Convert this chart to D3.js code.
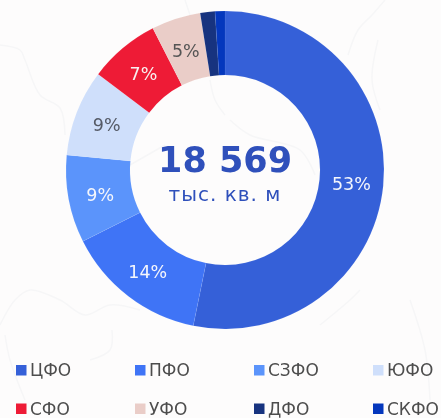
<!DOCTYPE html>
<html><head><meta charset="utf-8">
<script src="https://cdn.jsdelivr.net/npm/d3@7"></script>
<style>html,body{margin:0;padding:0;background:#fdfcfc;overflow:hidden}svg{display:block;filter:blur(0.35px)}text{font-family:"DejaVu Sans",sans-serif}</style>
</head><body><svg id="c" width="441" height="418"></svg>
<script>
const categories=["ЦФО","ПФО","СЗФО","ЮФО","СФО","УФО","ДФО","СКФО"];
const values=[53.2,14.4,8.9,8.8,7.2,5.0,1.5,1.0];
const labels=["53%","14%","9%","9%","7%","5%","",""];
const colors=["#3560d8","#3f74f6","#5b94fb","#cfdffb","#ee1b36","#eacdc8","#17337f","#0437bd"];
const labelColors=["#f4f6fc","#f4f6fc","#f4f6fc","#555a66","#f8f0f0","#555555","#fff","#fff"];
const total="18 569";
const unit="тыс. кв. м";
// faint map outlines in the page background (decoration, not data)
const backdropTraces=[
 [[0,45],[20,50],[25,60],[40,95],[60,108],[65,135]],
 [[0,325],[15,300],[30,290],[60,300],[85,315],[110,305],[140,310]],
 [[5,335],[10,360],[25,400]],
 [[90,360],[110,350],[112,330]],
 [[348,55],[358,30],[372,15],[385,0]],
 [[378,40],[372,80],[380,110]],
 [[230,120],[250,135],[300,150],[315,175]],
 [[130,165],[165,145]],
 [[185,0],[190,15]],
 [[210,80],[215,100],[225,115]],
 [[320,325],[350,300],[360,290]],
 [[410,300],[425,350],[430,400]]
];
const cx=225,cy=170,R=159,r=95;
const svg=d3.select("#c");
const traceLine=d3.line().curve(d3.curveCatmullRom);
svg.append("g").selectAll("path").data(backdropTraces).join("path")
 .attr("d",traceLine).attr("fill","none").attr("stroke","#f6f6f7").attr("stroke-width",1.5);
const g=svg.append("g").attr("transform",`translate(${cx},${cy})`);
const pie=d3.pie().sort(null).value(d=>d)(values);
const arc=d3.arc().innerRadius(r).outerRadius(R);
g.selectAll("path").data(pie).join("path").attr("d",arc).attr("fill",(d,i)=>colors[i])
 .attr("stroke","rgba(255,255,255,0.12)").attr("stroke-width",0.5);
g.selectAll("text.l").data(pie).join("text").attr("class","l")
 .attr("transform",d=>`translate(${arc.centroid(d)})`).attr("text-anchor","middle").attr("dy","0.42em")
 .attr("font-size",17.5).attr("fill",(d,i)=>labelColors[i]).text((d,i)=>labels[i]);
g.append("text").attr("text-anchor","middle").attr("y",2).attr("font-size",35).attr("font-weight","bold").attr("fill","#2f50bb").text(total);
g.append("text").attr("text-anchor","middle").attr("y",31).attr("font-size",20).attr("letter-spacing",1).attr("fill","#2f50bb").text(unit);
const xs=d3.scalePoint().domain([0,1,2,3]).range([16,373]);
const ys=d3.scalePoint().domain([0,1]).range([365,403.5]);
const leg=svg.selectAll("g.leg").data(categories).join("g").attr("class","leg")
 .attr("transform",(d,i)=>`translate(${xs(i%4)},${ys(Math.floor(i/4))})`);
leg.append("rect").attr("width",10.5).attr("height",10.5).attr("fill",(d,i)=>colors[i]);
leg.append("text").attr("x",14).attr("y",11).attr("font-size",17).attr("fill","#4d4d4d").text(d=>d);
</script></body></html>
